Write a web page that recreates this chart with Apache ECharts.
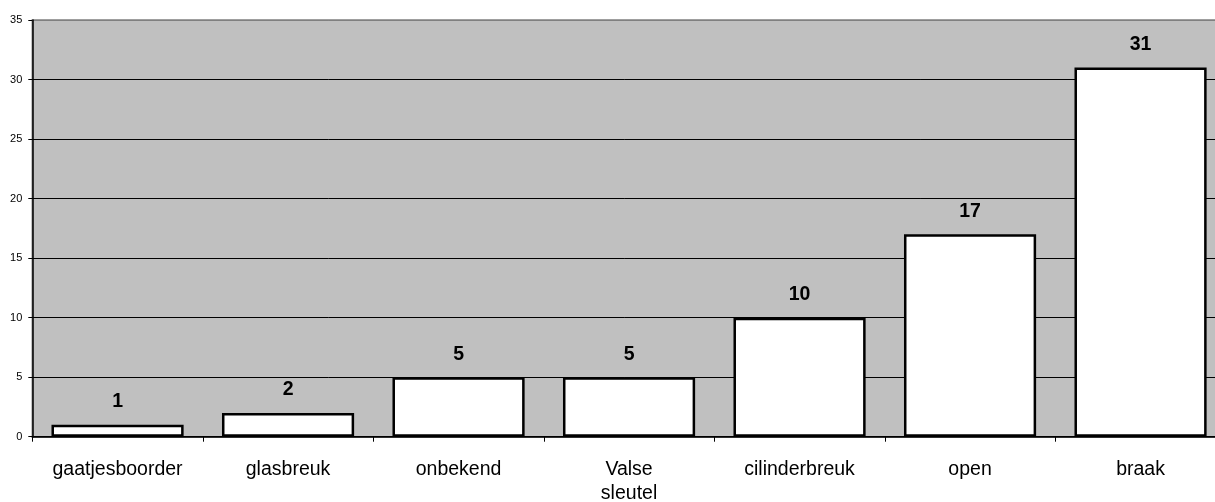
<!DOCTYPE html>
<html><head><meta charset="utf-8">
<script src="https://cdn.jsdelivr.net/npm/echarts@6/dist/echarts.min.js"></script>
<style>html,body{margin:0;padding:0;background:#fff;overflow:hidden}#c{width:1215px;height:502px}</style>
</head><body><div id="c"></div>
<script>
const categories = ["gaatjesboorder","glasbreuk","onbekend","Valse sleutel","cilinderbreuk","open","braak"];
const values = [1,2,5,5,10,17,31];
const yTicks = {min:0, max:35, interval:5};

const chart = echarts.init(document.getElementById('c'), null, {renderer:'canvas'});
chart.setOption({
  animation:false,
  grid:{left:32.3, top:20, width:1193.5, height:416.7, outerBoundsMode:'none', containLabel:false,
    show:true, backgroundColor:'#c0c0c0', borderColor:'#808080', borderWidth:1.5},
  xAxis:{type:'category', data:categories,
    axisLine:{lineStyle:{color:'#000', width:1.5}},
    axisTick:{show:true, length:5, alignWithLabel:false, lineStyle:{color:'#000'}},
    axisLabel:{margin:21, fontFamily:'Liberation Sans, Arial, sans-serif', fontSize:19.5, color:'#000', lineHeight:24, interval:0,
      formatter:v=>v.replace(' ','\n')}
  },
  yAxis:{type:'value', min:yTicks.min, max:yTicks.max, interval:yTicks.interval,
    axisLine:{show:true, lineStyle:{color:'#000', width:1.5}},
    axisTick:{show:true, length:4, lineStyle:{color:'#000'}},
    splitLine:{show:true, lineStyle:{color:['#000','#000','#000','#000','#000','#000','#000','#808080'], width:1}},
    axisLabel:{margin:10, fontFamily:'Liberation Sans, Arial, sans-serif', fontSize:11, color:'#000'}
  },
  series:[{type:'bar', data:values, barCategoryGap:'22.5%',
    itemStyle:{color:'#fff', borderColor:'#000', borderWidth:2.5},
    label:{show:true, position:'top', distance:13, fontFamily:'Liberation Sans, Arial, sans-serif', fontSize:19.5, fontWeight:'bold', color:'#000'}
  }]
});
</script></body></html>
